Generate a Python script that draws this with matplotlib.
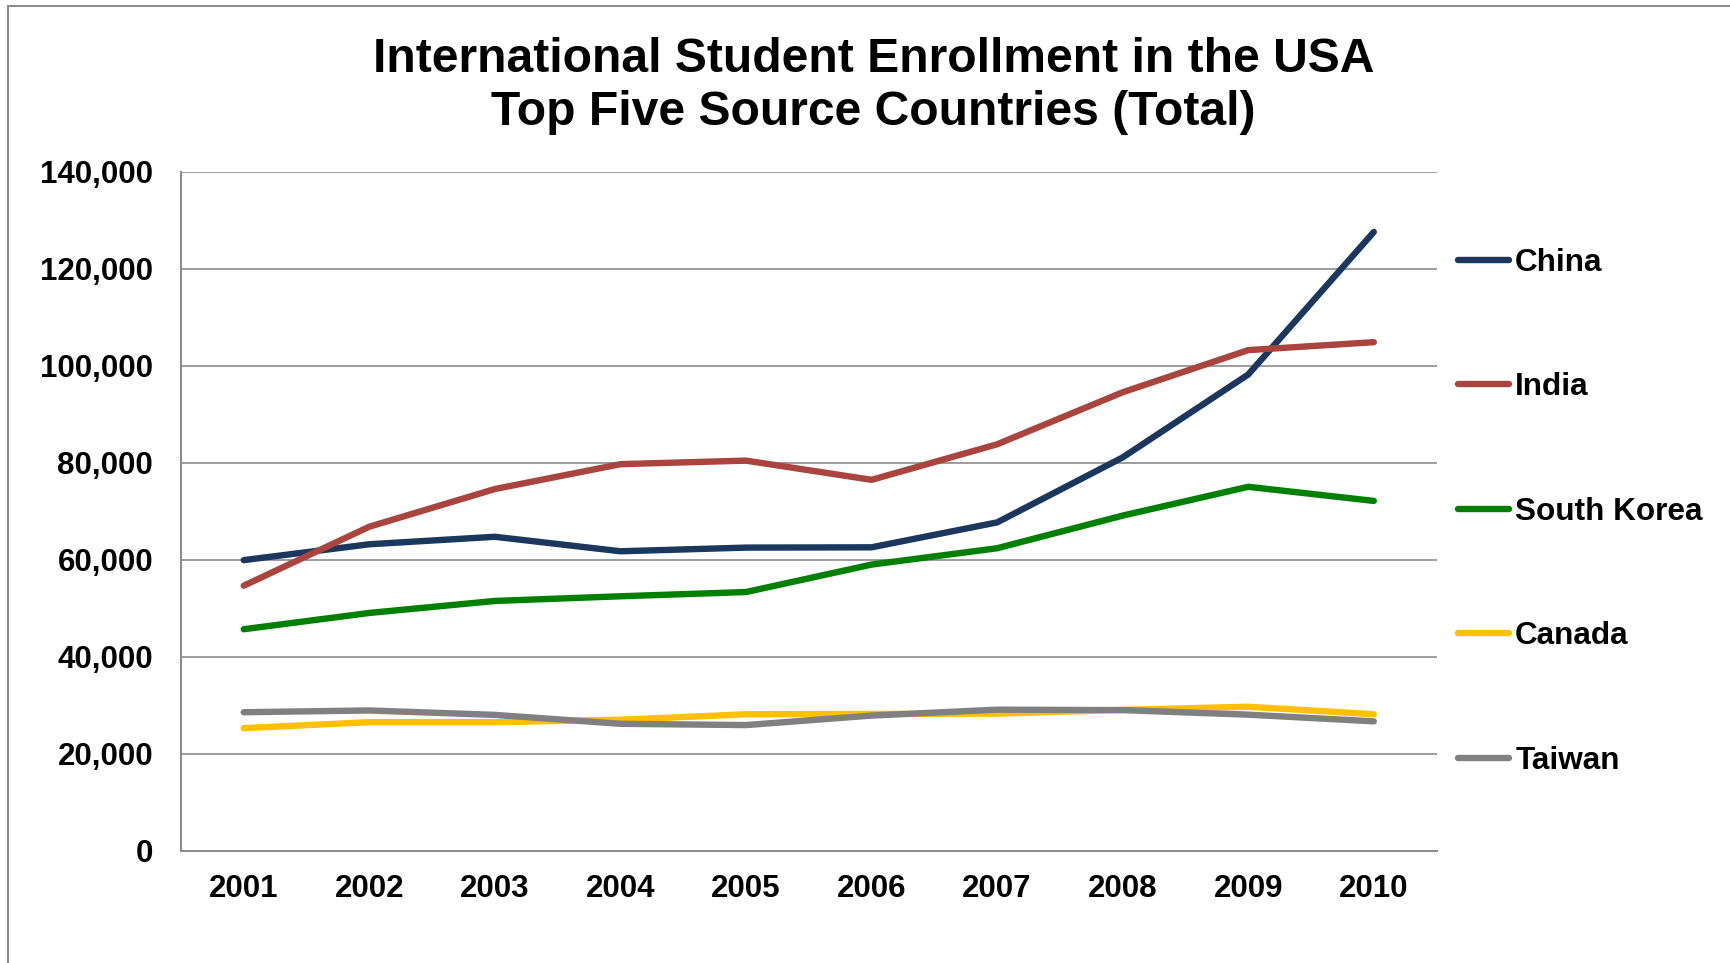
import matplotlib
matplotlib.use("Agg")
import matplotlib.pyplot as plt
from matplotlib.patches import Rectangle
from matplotlib.ticker import FuncFormatter

plt.rcParams['font.family'] = ['Liberation Sans', 'DejaVu Sans']
plt.rcParams['font.weight'] = 'bold'

# enrollment by academic year (total students)
years = ['2001', '2002', '2003', '2004', '2005', '2006', '2007', '2008', '2009', '2010']
china = [59939, 63211, 64757, 61765, 62523, 62582, 67723, 81127, 98235, 127628]
india = [54664, 66836, 74603, 79736, 80466, 76503, 83833, 94563, 103260, 104897]
south_korea = [45685, 49046, 51519, 52484, 53358, 59022, 62392, 69124, 75065, 72153]
canada = [25279, 26514, 26513, 27017, 28140, 28202, 28280, 29051, 29697, 28145]
taiwan = [28566, 28930, 28017, 26178, 25914, 27876, 29094, 29001, 28065, 26685]

series = [
    ('China', china, '#1b375e'),
    ('India', india, '#a9443f'),
    ('South Korea', south_korea, '#008000'),
    ('Canada', canada, '#ffc000'),
    ('Taiwan', taiwan, '#808080'),
]

fig = plt.figure(figsize=(17.3, 9.63), dpi=100)
ax = fig.add_axes([0.1046, 0.1166, 0.7258, 0.7048])

x = range(len(years))
for name, vals, col in series:
    ax.plot(x, vals, color=col, linewidth=4.6, label=name,
            solid_capstyle='round', solid_joinstyle='round')

ax.set_xlim(-0.5, len(years) - 0.5)
ax.set_ylim(0, 140000)
ax.set_yticks(range(0, 140001, 20000))
ax.yaxis.set_major_formatter(FuncFormatter(lambda v, p: '{:,.0f}'.format(v)))
ax.set_xticks(list(x))
ax.set_xticklabels(years)

ax.grid(axis='y', color='#8c8c8c', linewidth=1.2)
ax.set_axisbelow(True)
for s in ['top', 'right']:
    ax.spines[s].set_visible(False)
for s in ['left', 'bottom']:
    ax.spines[s].set_color('#8c8c8c')
    ax.spines[s].set_linewidth(1.5)

ax.tick_params(axis='both', length=0, labelsize=22.5)
ax.tick_params(axis='y', pad=20)
ax.tick_params(axis='x', pad=17)
for lab in ax.get_xticklabels() + ax.get_yticklabels():
    lab.set_fontweight('bold')

fig.text(0.505, 0.911,
         'International Student Enrollment in the USA\nTop Five Source Countries (Total)',
         ha='center', va='center', fontsize=34.6, fontweight='bold', linespacing=1.23)

leg = fig.legend(loc='center left', bbox_to_anchor=(0.843, 0.4686),
                 frameon=False, fontsize=22.7, handlelength=1.6,
                 handletextpad=0.2, labelspacing=3.0, borderpad=0,
                 borderaxespad=0)
for t in leg.get_texts():
    t.set_fontweight('bold')

# outer chart border (runs past right and bottom edges)
fig.add_artist(Rectangle((8 / 1730, -0.2), 1.2, 1.2 - 6 / 963,
                         transform=fig.transFigure, fill=False,
                         edgecolor='#8c8c8c', linewidth=1.5, clip_on=False))

fig.savefig('out.png', dpi=100)
